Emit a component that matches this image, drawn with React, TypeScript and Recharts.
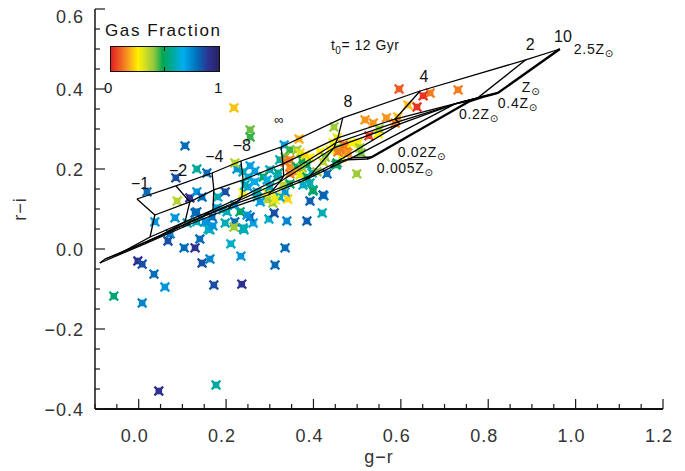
import React from 'react';
import { ScatterChart, Scatter, XAxis, YAxis } from 'recharts';

// ---------------- data ----------------
// observed galaxies: g-r colour, r-i colour, gas fraction
const galaxyGR = [
  0.072, 0.067, 0.140, 0.104, 0.129, 0.163, 0.241, 0.211, 0.234, 0.335,
  -0.002, 0.008, 0.145, 0.163, 0.312, 0.035, 0.060, 0.172, 0.236, -0.057,
  0.008, 0.177, 0.046, 0.019, 0.085, 0.133, 0.156, 0.088, 0.117, 0.133,
  0.145, 0.133, 0.037, 0.083, 0.111, 0.133, 0.156, 0.168, 0.159, 0.179,
  0.198, 0.202, 0.198, 0.220, 0.218, 0.232, 0.239, 0.225, 0.220, 0.239,
  0.262, 0.255, 0.248, 0.298, 0.339, 0.385, 0.420, 0.392, 0.424, 0.399,
  0.431, 0.499, 0.310, 0.341, 0.314, 0.294, 0.294, 0.307, 0.250, 0.271,
  0.335, 0.323, 0.106, 0.181, 0.129, 0.152, 0.170, 0.193, 0.220, 0.278,
  0.218, 0.255, 0.255, 0.367, 0.447, 0.239, 0.266, 0.255, 0.333, 0.346,
  0.362, 0.369, 0.335, 0.323, 0.346, 0.374, 0.392, 0.385, 0.346, 0.362,
  0.374, 0.300, 0.319, 0.346, 0.362, 0.369, 0.385, 0.397, 0.408, 0.285,
  0.294, 0.317, 0.250, 0.243, 0.266, 0.300, 0.330, 0.346, 0.376, 0.399,
  0.392, 0.271, 0.312, 0.422, 0.415, 0.445, 0.454, 0.468, 0.454, 0.438,
  0.427, 0.472, 0.465, 0.454, 0.477, 0.488, 0.502, 0.456, 0.479, 0.509,
  0.527, 0.548, 0.452, 0.422, 0.381, 0.335, 0.596, 0.667, 0.651, 0.637,
  0.616, 0.731, 0.593, 0.587, 0.567, 0.537, 0.518, 0.550, 0.506,
];
const galaxyRI = [
  0.038, 0.020, 0.025, 0.003, 0.003, 0.048, 0.048, 0.013, -0.018, 0.003,
  -0.030, -0.038, -0.035, -0.025, -0.040, -0.063, -0.095, -0.090, -0.088, -0.118,
  -0.135, -0.340, -0.355, 0.143, 0.178, 0.200, 0.190, 0.120, 0.128, 0.143,
  0.130, 0.093, 0.068, 0.078, 0.065, 0.068, 0.068, 0.080, 0.050, 0.103,
  0.143, 0.093, 0.065, 0.068, 0.055, 0.093, 0.140, 0.200, 0.215, 0.053,
  0.065, 0.080, 0.085, 0.075, 0.070, 0.070, 0.090, 0.120, 0.133, 0.145,
  0.188, 0.188, 0.090, 0.125, 0.133, 0.140, 0.123, 0.115, 0.155, 0.130,
  0.143, 0.130, 0.258, 0.130, 0.090, 0.068, 0.058, 0.098, 0.110, 0.118,
  0.353, 0.298, 0.280, 0.275, 0.305, 0.193, 0.195, 0.208, 0.260, 0.248,
  0.248, 0.240, 0.230, 0.223, 0.223, 0.223, 0.228, 0.210, 0.205, 0.205,
  0.203, 0.198, 0.190, 0.188, 0.193, 0.185, 0.180, 0.190, 0.193, 0.180,
  0.173, 0.180, 0.180, 0.160, 0.168, 0.155, 0.160, 0.163, 0.160, 0.148,
  0.165, 0.143, 0.123, 0.135, 0.243, 0.265, 0.278, 0.260, 0.253, 0.248,
  0.230, 0.240, 0.228, 0.215, 0.258, 0.265, 0.265, 0.243, 0.240, 0.240,
  0.283, 0.288, 0.210, 0.218, 0.235, 0.218, 0.400, 0.390, 0.383, 0.355,
  0.360, 0.398, 0.330, 0.315, 0.328, 0.315, 0.323, 0.300, 0.253,
];
const galaxyGas = [
  0.75, 0.85, 0.80, 0.80, 0.90, 0.60, 0.60, 0.62, 0.72, 0.80,
  0.90, 0.85, 0.85, 0.75, 0.80, 0.80, 0.72, 0.85, 0.90, 0.52,
  0.75, 0.57, 0.90, 0.80, 0.85, 0.57, 0.80, 0.35, 0.90, 0.72,
  0.80, 0.80, 0.72, 0.72, 0.60, 0.60, 0.70, 0.80, 0.62, 0.70,
  0.85, 0.60, 0.60, 0.80, 0.38, 0.50, 0.25, 0.72, 0.35, 0.60,
  0.70, 0.80, 0.72, 0.62, 0.75, 0.82, 0.60, 0.82, 0.72, 0.55,
  0.80, 0.38, 0.85, 0.22, 0.25, 0.25, 0.35, 0.38, 0.70, 0.60,
  0.72, 0.62, 0.80, 0.60, 0.80, 0.72, 0.72, 0.60, 0.70, 0.70,
  0.20, 0.42, 0.45, 0.18, 0.38, 0.60, 0.70, 0.70, 0.70, 0.45,
  0.38, 0.30, 0.40, 0.58, 0.12, 0.48, 0.25, 0.50, 0.15, 0.50,
  0.40, 0.60, 0.55, 0.12, 0.15, 0.28, 0.48, 0.60, 0.40, 0.50,
  0.65, 0.60, 0.62, 0.60, 0.68, 0.60, 0.35, 0.50, 0.62, 0.50,
  0.60, 0.60, 0.28, 0.82, 0.25, 0.25, 0.28, 0.10, 0.38, 0.25,
  0.40, 0.12, 0.28, 0.48, 0.12, 0.25, 0.25, 0.12, 0.15, 0.42,
  0.05, 0.25, 0.50, 0.35, 0.22, 0.12, 0.08, 0.12, 0.03, 0.03,
  0.20, 0.12, 0.20, 0.12, 0.15, 0.15, 0.15, 0.38, 0.38,
];

// model grid: e-folding times (Gyr) from bluest to reddest
const tauNames = ['\u22121', '\u22122', '\u22124', '\u22128', '\u221e', '8', '4', '2', '10'];
// constant-metallicity tracks (g-r, r-i) at each tau
const gridGR_Z250 = [-0.004, 0.085, 0.168, 0.234, 0.326, 0.467, 0.644, 0.886, 0.964];
const gridRI_Z250 = [0.125, 0.158, 0.190, 0.220, 0.255, 0.328, 0.395, 0.473, 0.500];
const gridGR_Z100 = [0.037, 0.117, 0.172, 0.239, 0.330, 0.456, 0.587, 0.776, 0.822];
const gridRI_Z100 = [0.085, 0.118, 0.148, 0.173, 0.213, 0.278, 0.325, 0.378, 0.390];
const gridGR_Z040 = [0.026, 0.106, 0.170, 0.236, 0.332, 0.451, 0.593, 0.740, 0.786];
const gridRI_Z040 = [0.030, 0.068, 0.098, 0.130, 0.183, 0.265, 0.318, 0.368, 0.380];
const gridGR_Z020 = [-0.047, 0.049, 0.140, 0.227, 0.323, 0.447, 0.598, 0.724, 0.758];
const gridRI_Z020 = [-0.013, 0.033, 0.078, 0.120, 0.168, 0.253, 0.313, 0.363, 0.370];
const gridGR_Z002 = [-0.077, 0.021, 0.117, 0.213, 0.305, 0.392, 0.449, 0.488, 0.534];
const gridRI_Z002 = [-0.025, 0.020, 0.068, 0.110, 0.145, 0.183, 0.215, 0.228, 0.230];
const gridGR_Z0005 = [-0.089, 0.014, 0.113, 0.204, 0.296, 0.381, 0.438, 0.477, 0.522];
const gridRI_Z0005 = [-0.035, 0.013, 0.060, 0.100, 0.135, 0.173, 0.203, 0.223, 0.225];

// labels of the tau vertices (placed in data units)
const tauLabelGR = [0.003, 0.090, 0.173, 0.236, 0.321, 0.479, 0.653, 0.896, 0.971];
const tauLabelRI = [0.165, 0.198, 0.233, 0.260, 0.323, 0.370, 0.433, 0.513, 0.533];
// metallicity labels
const zLabelNames = ['2.5Z', 'Z', '0.4Z', '0.2Z', '0.02Z', '0.005Z'];
const zLabelGR = [0.996, 0.877, 0.822, 0.733, 0.593, 0.545];
const zLabelRI = [0.500, 0.404, 0.366, 0.338, 0.243, 0.203];
// age annotation
const ageLabelGR = [0.440];
const ageLabelRI = [0.510];

// axes
const xMajorTicks = [0.0, 0.2, 0.4, 0.6, 0.8, 1.0, 1.2];
const yMajorTicks = [-0.4, -0.2, 0.0, 0.2, 0.4, 0.6];
const xDomain = [-0.1, 1.2];
const yDomain = [-0.4, 0.6];

// ---------------- helpers ----------------
const FONT = '"Liberation Sans", Arial, Helvetica, sans-serif';
const INK = '#1a1a1a';

const STOPS: [number, string][] = [
  [0.0, '#e31e24'],
  [0.1, '#f26b21'],
  [0.17, '#f9a61b'],
  [0.25, '#fff200'],
  [0.33, '#c8da2b'],
  [0.4, '#8dc63f'],
  [0.48, '#00a651'],
  [0.57, '#00a99d'],
  [0.67, '#00aeef'],
  [0.79, '#0072bc'],
  [0.9, '#2e3192'],
  [1.0, '#262262'],
];

function hexToRgb(h: string) {
  return [parseInt(h.slice(1, 3), 16), parseInt(h.slice(3, 5), 16), parseInt(h.slice(5, 7), 16)];
}
function gasColor(f: number) {
  const v = Math.max(0, Math.min(1, f));
  for (let i = 0; i < STOPS.length - 1; i++) {
    const [a, ca] = STOPS[i];
    const [b, cb] = STOPS[i + 1];
    if (v >= a && v <= b) {
      const t = (v - a) / (b - a);
      const A = hexToRgb(ca);
      const B = hexToRgb(cb);
      const c = A.map((x, k) => Math.round(x + (B[k] - x) * t));
      return `rgb(${c[0]},${c[1]},${c[2]})`;
    }
  }
  return STOPS[STOPS.length - 1][1];
}

const stepTicks = (lo: number, hi: number, step: number) => {
  const n = Math.round((hi - lo) / step);
  return Array.from({ length: n + 1 }, (_, i) => Math.round((lo + i * step) * 1000) / 1000);
};
const xTicks = stepTicks(xDomain[0], xDomain[1], 0.05);
const yTicks = stepTicks(yDomain[0], yDomain[1], 0.05);
const isMajor = (v: number, list: number[]) => list.some((m) => Math.abs(m - v) < 1e-6);
const fmt = (v: number) => (v < 0 ? '\u2212' + Math.abs(v).toFixed(1) : v.toFixed(1));

const MAJ = 10;
const MIN = 5;

const BottomTick = (p: any) => {
  const { x, y, payload } = p;
  const v = payload.value;
  const major = isMajor(v, xMajorTicks);
  return (
    <g>
      <line x1={x} y1={y} x2={x} y2={y - (major ? MAJ : MIN)} stroke={INK} strokeWidth={1.2} />
      {major && (
        <text x={x - 4} y={y + 33} textAnchor="middle" fontFamily={FONT} fontSize={18} letterSpacing={1} fill="#333">
          {fmt(v)}
        </text>
      )}
    </g>
  );
};
const TopTick = (p: any) => {
  const { x, y, payload } = p;
  const major = isMajor(payload.value, xMajorTicks);
  return <line x1={x} y1={y} x2={x} y2={y + (major ? MAJ : MIN)} stroke={INK} strokeWidth={1.2} />;
};
const LeftTick = (p: any) => {
  const { x, y, payload } = p;
  const v = payload.value;
  const major = isMajor(v, yMajorTicks);
  const top = Math.abs(v - yDomain[1]) < 1e-6;
  return (
    <g>
      <line x1={x} y1={y} x2={x + (major ? MAJ : MIN)} y2={y} stroke={INK} strokeWidth={1.2} />
      {major && (
        <text x={x - 11} y={y + (top ? 14 : 7)} textAnchor="end" fontFamily={FONT} fontSize={18} letterSpacing={1} fill="#333">
          {fmt(v)}
        </text>
      )}
    </g>
  );
};
const RightTick = (p: any) => {
  const { x, y, payload } = p;
  const major = isMajor(payload.value, yMajorTicks);
  return <line x1={x} y1={y} x2={x - (major ? MAJ : MIN)} y2={y} stroke={INK} strokeWidth={1.2} />;
};

const Marker = (p: any) => {
  const { cx, cy, payload } = p;
  if (cx == null || cy == null) return <g />;
  const c = gasColor(payload.gas);
  const a = 3.6;
  return (
    <g>
      <rect x={cx - 3.3} y={cy - 3.3} width={6.6} height={6.6} fill={c} />
      <path
        d={`M${cx - a},${cy - a}L${cx + a},${cy + a}M${cx - a},${cy + a}L${cx + a},${cy - a}`}
        stroke={c}
        strokeWidth={2.2}
        strokeLinecap="square"
      />
    </g>
  );
};

const NoShape = () => <g />;

const TauText = (p: any) => {
  const { cx, cy, payload } = p;
  const isInf = payload.text === '\u221e';
  return (
    <text x={cx} y={cy} dy={isInf ? 4 : 6} textAnchor="middle" fontFamily={FONT} fontSize={isInf ? 13 : 16} fill="#111">
      {payload.text}
    </text>
  );
};
const ZText = (p: any) => {
  const { cx, cy, payload } = p;
  return (
    <text x={cx} y={cy + 5} textAnchor="start" fontFamily={FONT} fontSize={14} letterSpacing={0.7} fill="#111">
      {payload.text}
      <tspan fontSize={10} dy={3} fontFamily='"DejaVu Sans", sans-serif'>{'\u2299'}</tspan>
    </text>
  );
};
const AgeText = (p: any) => {
  const { cx, cy } = p;
  return (
    <text x={cx} y={cy + 5} textAnchor="start" fontFamily={FONT} fontSize={14} letterSpacing={0.5} fill="#111">
      t<tspan fontSize={10} dy={4}>0</tspan>
      <tspan dy={-4}>{'= 12 Gyr'}</tspan>
    </text>
  );
};

// ---------------- derived tables ----------------
const galaxies = galaxyGR.map((gr, i) => ({ gr, ri: galaxyRI[i], gas: galaxyGas[i] }));

const zTracksGR = [gridGR_Z250, gridGR_Z100, gridGR_Z040, gridGR_Z020, gridGR_Z002, gridGR_Z0005];
const zTracksRI = [gridRI_Z250, gridRI_Z100, gridRI_Z040, gridRI_Z020, gridRI_Z002, gridRI_Z0005];
const zTracks = zTracksGR.map((grs, k) => grs.map((gr, i) => ({ gr, ri: zTracksRI[k][i] })));
const tauTracks = tauNames.map((_, i) => zTracksGR.map((grs, k) => ({ gr: grs[i], ri: zTracksRI[k][i] })));

const tauLabels = tauNames.map((text, i) => ({ gr: tauLabelGR[i], ri: tauLabelRI[i], text }));
const zLabels = zLabelNames.map((text, i) => ({ gr: zLabelGR[i], ri: zLabelRI[i], text }));
const ageLabels = ageLabelGR.map((gr, i) => ({ gr, ri: ageLabelRI[i] }));

const YTitle = (p: any) => {
  const vb = p.viewBox || { x: 0, y: 9, width: 95, height: 400 };
  const cx = vb.x + 20;
  const cy = vb.y + vb.height / 2;
  return (
    <text x={cx} y={cy} transform={`rotate(-90 ${cx} ${cy})`} textAnchor="middle" dy={6} fontFamily={FONT} fontSize={18} letterSpacing={1} fill="#333">
      r{'\u2212'}i
    </text>
  );
};
const XTitle = (p: any) => {
  const vb = p.viewBox || { x: 95, y: 409, width: 568, height: 62 };
  const cx = vb.x + vb.width / 2;
  return (
    <text x={cx} y={vb.y + 54} textAnchor="middle" fontFamily={FONT} fontSize={18} letterSpacing={1} fill="#333">
      g{'\u2212'}r
    </text>
  );
};

export default function App() {
  const axisLine = { stroke: '#222', strokeWidth: 1.6 };
  const common = { xAxisId: 'b', yAxisId: 'l', isAnimationActive: false } as const;
  const gradient = `linear-gradient(to right, ${STOPS.map(([p, c]) => `${c} ${p * 100}%`).join(', ')})`;
  return (
    <div style={{ position: 'absolute', left: 0, top: 0, width: 685, height: 471, background: '#fff' }}>
      <ScatterChart width={685} height={471} margin={{ top: 9, right: 22, bottom: 0, left: 0 }}>
        <XAxis
          xAxisId="b"
          type="number"
          dataKey="gr"
          domain={xDomain}
          ticks={xTicks}
          interval={0}
          allowDataOverflow
          height={62}
          tickSize={0}
          tickMargin={0}
          tickLine={false}
          axisLine={{ stroke: '#111', strokeWidth: 2 }}
          tick={(p: any) => <BottomTick {...p} />}
          label={{ content: (p: any) => <XTitle {...p} /> }}
        />
        <XAxis
          xAxisId="t"
          orientation="top"
          type="number"
          dataKey="gr"
          domain={xDomain}
          ticks={xTicks}
          interval={0}
          allowDataOverflow
          height={0}
          tickSize={0}
          tickMargin={0}
          tickLine={false}
          axisLine={axisLine}
          tick={(p: any) => <TopTick {...p} />}
        />
        <YAxis
          yAxisId="l"
          type="number"
          dataKey="ri"
          domain={yDomain}
          ticks={yTicks}
          interval={0}
          allowDataOverflow
          width={95}
          tickSize={0}
          tickMargin={0}
          tickLine={false}
          axisLine={axisLine}
          tick={(p: any) => <LeftTick {...p} />}
          label={{ content: (p: any) => <YTitle {...p} /> }}
        />
        <YAxis
          yAxisId="r"
          orientation="right"
          type="number"
          dataKey="ri"
          domain={yDomain}
          ticks={yTicks}
          interval={0}
          allowDataOverflow
          width={0}
          tickSize={0}
          tickMargin={0}
          tickLine={false}
          axisLine={axisLine}
          tick={(p: any) => <RightTick {...p} />}
        />

        <Scatter {...common} data={galaxies} shape={(p: any) => <Marker {...p} />} />

        {zTracks.map((d, k) => (
          <Scatter
            key={'z' + k}
            {...common}
            data={d}
            line={{ stroke: '#000', strokeWidth: 1.3 }}
            shape={NoShape}
          />
        ))}
        {tauTracks.map((d, k) => (
          <Scatter
            key={'t' + k}
            {...common}
            data={d}
            line={{ stroke: '#000', strokeWidth: k === tauTracks.length - 1 ? 2.4 : 1.3 }}
            shape={NoShape}
          />
        ))}

        <Scatter {...common} data={tauLabels} shape={(p: any) => <TauText {...p} />} />
        <Scatter {...common} data={zLabels} shape={(p: any) => <ZText {...p} />} />
        <Scatter {...common} data={ageLabels} shape={(p: any) => <AgeText {...p} />} />
      </ScatterChart>

      {/* colour bar legend */}
      <div
        style={{
          position: 'absolute', left: 105, top: 21, fontFamily: FONT, fontSize: 17,
          letterSpacing: 1.6, color: '#111', whiteSpace: 'nowrap', lineHeight: '20px',
        }}
      >
        Gas Fraction
      </div>
      <div
        style={{
          position: 'absolute', left: 110, top: 46, width: 108, height: 24,
          background: gradient, border: '1.5px solid #111',
        }}
      >
        <div style={{ position: 'absolute', left: 53, top: 0, width: 1, height: 4, background: '#111' }} />
        <div style={{ position: 'absolute', left: 53, bottom: 0, width: 1, height: 4, background: '#111' }} />
      </div>
      <div style={{ position: 'absolute', left: 104, top: 79, fontFamily: FONT, fontSize: 15, color: '#111' }}>0</div>
      <div style={{ position: 'absolute', left: 214, top: 79, fontFamily: FONT, fontSize: 15, color: '#111' }}>1</div>
    </div>
  );
}
